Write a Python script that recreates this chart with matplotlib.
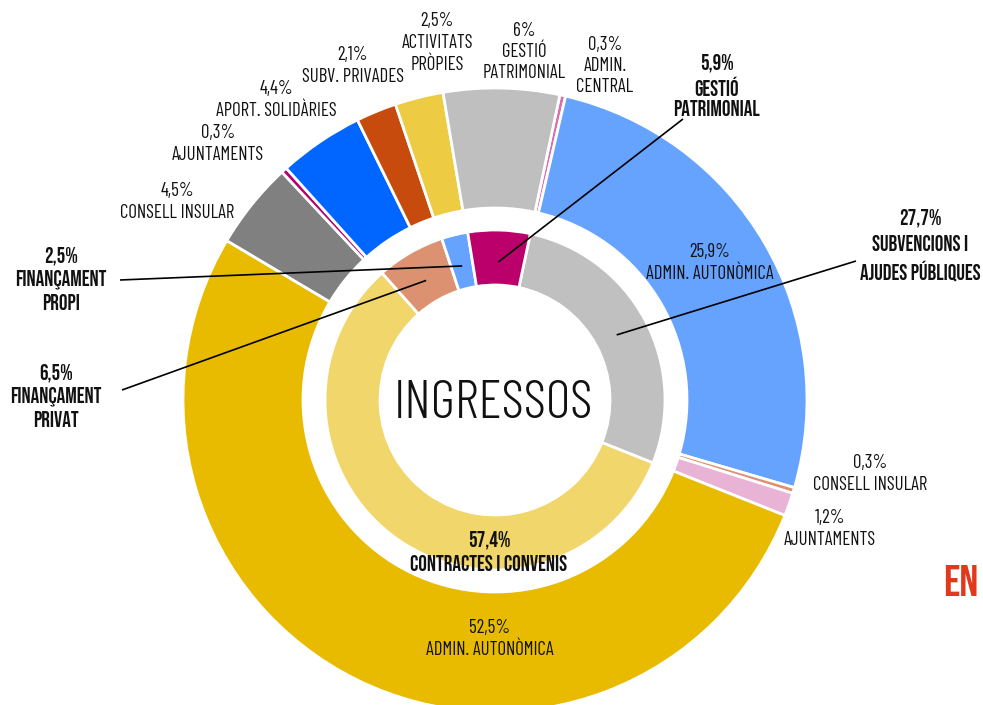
import numpy as np
import matplotlib.pyplot as plt

W, H = 983, 705
FONT_BOLD = ["Bebas Neue", "DejaVu Sans"]
FONT_LIGHT = ["Barlow Condensed", "DejaVu Sans"]

# outer ring: detail, clockwise from the top
outer_values = [0.3, 25.9, 0.3, 1.2, 52.5, 4.5, 0.3, 4.4, 2.1, 2.5, 6.0]
outer_names = ["ADMIN.\nCENTRAL", "ADMIN. AUTONÒMICA", "CONSELL INSULAR", "AJUNTAMENTS",
               "ADMIN. AUTONÒMICA", "CONSELL INSULAR", "AJUNTAMENTS", "APORT. SOLIDÀRIES",
               "SUBV. PRIVADES", "ACTIVITATS\nPRÒPIES", "GESTIÓ\nPATRIMONIAL"]
outer_colors = ["#d86fae", "#66a3fe", "#dc9170", "#e9b3d6", "#e8bb00", "#808080",
                "#b8006b", "#0066ff", "#c64b0c", "#edcc44", "#bfbfbf"]

# inner ring: groups
inner_values = [27.7, 57.4, 6.5, 2.5, 5.9]
inner_names = ["SUBVENCIONS I\nAJUDES PÚBLIQUES", "CONTRACTES I CONVENIS", "FINANÇAMENT\nPRIVAT",
               "FINANÇAMENT\nPROPI", "GESTIÓ\nPATRIMONIAL"]
inner_colors = ["#c0c0c0", "#f1d66b", "#dc9170", "#66a3fe", "#bc006b"]

# label positions in pixels (x, y from top)
outer_pos = [(605, 66), (710, 263), (870, 474), (830, 529), (490, 639), (177, 202),
             (218, 144), (276, 100), (353, 66), (437, 43), (524, 52)]
inner_pos = [(920, 245), (489, 551), (56, 395), (61, 278), (717, 85)]
inner_spacing = [1.5, 1.4, 1.3, 1.3, 1.25]
# where the leader line leaves the label (None = no leader)
leader_start = [(856, 261), None, (122, 390), (120, 280), (683, 119)]


def pct(v):
    return f"{v:g}".replace(".", ",") + "%"


fig = plt.figure(figsize=(W / 100, H / 100), dpi=100)
ax = fig.add_axes([0, 0, 1, 1])

CX, CY = 495, 400
R_OUT, R_MID, R_IN = 312, 170, 115
START = 12  # degrees clockwise from the top

# y axis is flipped below, so counterclock=True runs clockwise on screen
wedges_out, _ = ax.pie(outer_values, colors=outer_colors, radius=R_OUT, center=(CX, CY),
                       startangle=START - 90, counterclock=True,
                       wedgeprops=dict(width=R_OUT - 192, edgecolor="white", linewidth=2))
wedges_in, _ = ax.pie(inner_values, colors=inner_colors, radius=R_MID, center=(CX, CY),
                      startangle=START - 90, counterclock=True,
                      wedgeprops=dict(width=R_MID - R_IN, edgecolor="white", linewidth=2))

ax.set_xlim(0, W)
ax.set_ylim(H, 0)
ax.set_aspect("equal")
ax.axis("off")

for v, name, (x, y) in zip(outer_values, outer_names, outer_pos):
    ax.text(x, y, pct(v) + "\n" + name, ha="center", va="center", family=FONT_LIGHT,
            fontsize=13.5, fontweight=400, linespacing=1.25, color="#111111")

for w, v, name, (x, y), ls, st in zip(wedges_in, inner_values, inner_names, inner_pos,
                                      inner_spacing, leader_start):
    ax.text(x, y, pct(v) + "\n" + name, ha="center", va="center", family=FONT_BOLD,
            fontsize=15.5, linespacing=ls, color="#111111")
    if st is not None:
        tm = np.radians((w.theta1 + w.theta2) / 2)
        ex, ey = CX + 138 * np.cos(tm), CY + 138 * np.sin(tm)
        ax.plot([st[0], ex], [st[1], ey], color="black", lw=1.2, solid_capstyle="butt")

ax.text(CX - 2, CY + 5, "INGRESSOS", ha="center", va="center", family=FONT_LIGHT,
        fontsize=39, fontweight=300, color="#111111")
ax.text(961, 580, "EN", ha="center", va="center", family=FONT_BOLD,
        fontsize=32, color="#e2391d")

fig.savefig("out.png", dpi=100)
